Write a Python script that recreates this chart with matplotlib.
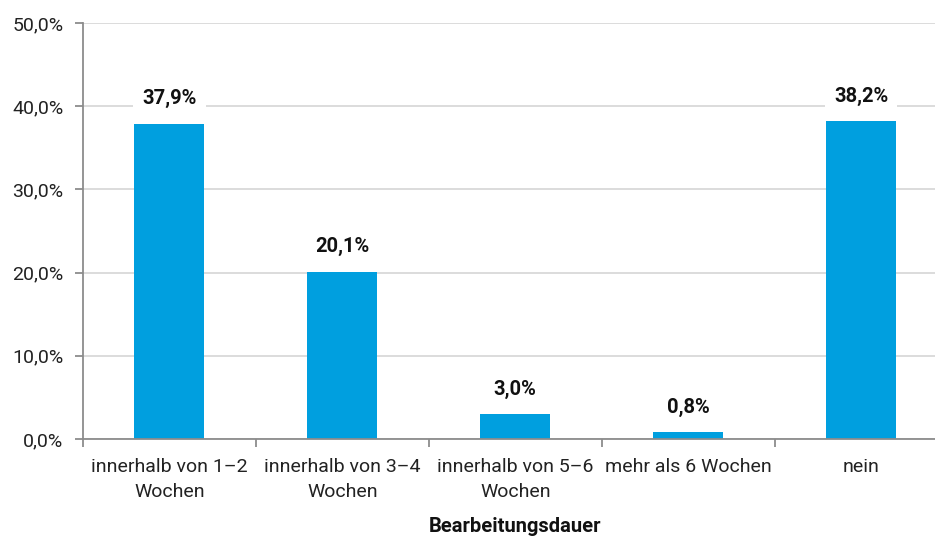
import matplotlib
matplotlib.use("Agg")
import matplotlib.pyplot as plt
from matplotlib.ticker import FuncFormatter, FixedLocator

categories = ["innerhalb von 1\u20132\nWochen", "innerhalb von 3\u20134\nWochen",
              "innerhalb von 5\u20136\nWochen", "mehr als 6 Wochen", "nein"]
values = [37.9, 20.1, 3.0, 0.8, 38.2]
value_labels = ["37,9%", "20,1%", "3,0%", "0,8%", "38,2%"]
y_ticks = [0, 10, 20, 30, 40, 50]
x_title = "Bearbeitungsdauer"

plt.rcParams["font.family"] = ["Roboto", "DejaVu Sans"]

fig = plt.figure(figsize=(9.35, 5.38), dpi=100)
# the plot area runs slightly past the right edge of the figure
ax = fig.add_axes([0.0888, 0.184, 0.9246, 0.773])

x = list(range(len(categories)))
ax.bar(x, values, width=0.405, color="#009FDF", zorder=2)

ax.set_xlim(-0.5, len(categories) - 0.5)
ax.set_ylim(0, 50)
ax.yaxis.set_major_locator(FixedLocator(y_ticks))
ax.yaxis.set_major_formatter(FuncFormatter(lambda v, p: f"{v:.1f}%".replace(".", ",")))
ax.yaxis.grid(True, color="#d9d9d9", linewidth=1.3, zorder=0)
ax.set_axisbelow(True)

# category labels centred, tick marks on category boundaries
ax.set_xticks(x)
ax.set_xticklabels(categories, fontsize=14, color="#222222", linespacing=1.5)
ax.tick_params(axis="x", which="major", length=0, pad=14)
ax.set_xticks([i - 0.5 for i in range(len(categories) + 1)], minor=True)
ax.tick_params(axis="x", which="minor", length=6, width=1.3, color="#8c8c8c")
ax.tick_params(axis="y", length=6, width=1.3, color="#8c8c8c", labelsize=14,
               labelcolor="#222222", pad=8)

for side in ["top", "right"]:
    ax.spines[side].set_visible(False)
for side in ["left", "bottom"]:
    ax.spines[side].set_color("#8c8c8c")
    ax.spines[side].set_linewidth(1.3)

for xi, v, lab in zip(x, values, value_labels):
    ax.annotate(lab, (xi, v), xytext=(0, 18), textcoords="offset points",
                ha="center", va="center", fontsize=14.5, fontweight="bold",
                color="#111111", zorder=3,
                bbox=dict(boxstyle="square,pad=0.45", fc="white", ec="none"))

# axis title placed just above the bottom edge of the figure
fig.text(515.5 / 935, 12 / 538, x_title, ha="center", va="center",
         fontsize=14.5, fontweight="bold", color="#111111")

fig.savefig("out.png", dpi=100)
